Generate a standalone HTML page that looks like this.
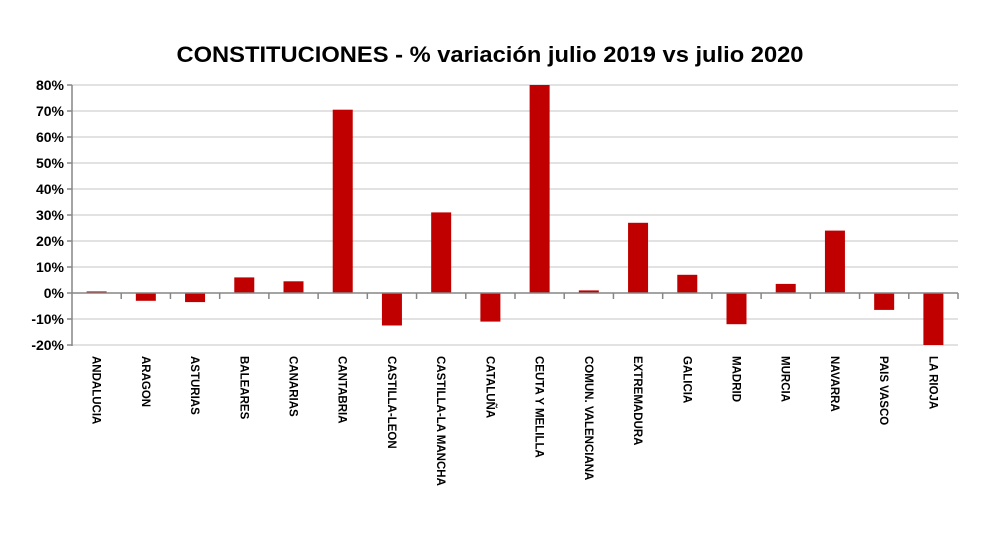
<!DOCTYPE html>
<html><head><meta charset="utf-8"><style>
html,body{margin:0;padding:0;background:#fff;}
svg{display:block;font-family:"Liberation Sans",Arial,sans-serif;}
</style></head><body>
<svg width="1000" height="550" viewBox="0 0 1000 550" xmlns="http://www.w3.org/2000/svg">
<text x="490" y="62" text-anchor="middle" font-size="22" font-weight="bold" textLength="627" lengthAdjust="spacingAndGlyphs" fill="#000">CONSTITUCIONES - % variación julio 2019 vs julio 2020</text>
<g id="grid" stroke="#d9d9d9" stroke-width="1.5"></g>
<g id="bars" fill="#c00000"></g>
<g id="axis" stroke="#868686" stroke-width="1.5"></g>
<g id="ylab" font-size="14" font-weight="bold" text-anchor="end" fill="#000"></g>
<g id="xlab" font-size="11.5" font-weight="bold" fill="#000"></g>
</svg>
<script>
(function(){
var ns="http://www.w3.org/2000/svg";
function el(p,t,a,txt){var e=document.createElementNS(ns,t);for(var k in a)e.setAttribute(k,a[k]);if(txt)e.textContent=txt;document.getElementById(p).appendChild(e);}
var x0=72,x1=958,y0=293,s=2.6,w=(x1-x0)/18;
for(var v=-20;v<=80;v+=10){var y=y0-v*s;
 if(v!=0)el('grid','line',{x1:x0,x2:x1,y1:y,y2:y});
 el('axis','line',{x1:x0-5,x2:x0,y1:y,y2:y});
 el('ylab','text',{x:x0-8,y:y+5},v+'%');}
var names=["ANDALUCIA","ARAGON","ASTURIAS","BALEARES","CANARIAS","CANTABRIA","CASTILLA-LEON","CASTILLA-LA MANCHA","CATALUÑA","CEUTA Y MELILLA","COMUN. VALENCIANA","EXTREMADURA","GALICIA","MADRID","MURCIA","NAVARRA","PAIS VASCO","LA RIOJA"];
var vals=[0.6,-3,-3.5,6,4.5,70.5,-12.5,31,-11,80,1,27,7,-12,3.5,24,-6.5,-20];
for(var i=0;i<18;i++){var c=x0+w*(i+0.5),val=vals[i];
 var by=val>0?y0-val*s:y0,h=Math.abs(val)*s;
 el('bars','rect',{x:c-10,y:by,width:20,height:h});
 el('axis','line',{x1:x0+w*(i+1),x2:x0+w*(i+1),y1:y0,y2:y0+6});
 el('xlab','text',{x:0,y:0,transform:'translate('+(c-4)+',356) rotate(90)'},names[i]);}
el('axis','line',{x1:x0,x2:x0,y1:85,y2:346});
el('axis','line',{x1:x0,x2:x1,y1:y0,y2:y0});
})();
</script>
</body></html>
